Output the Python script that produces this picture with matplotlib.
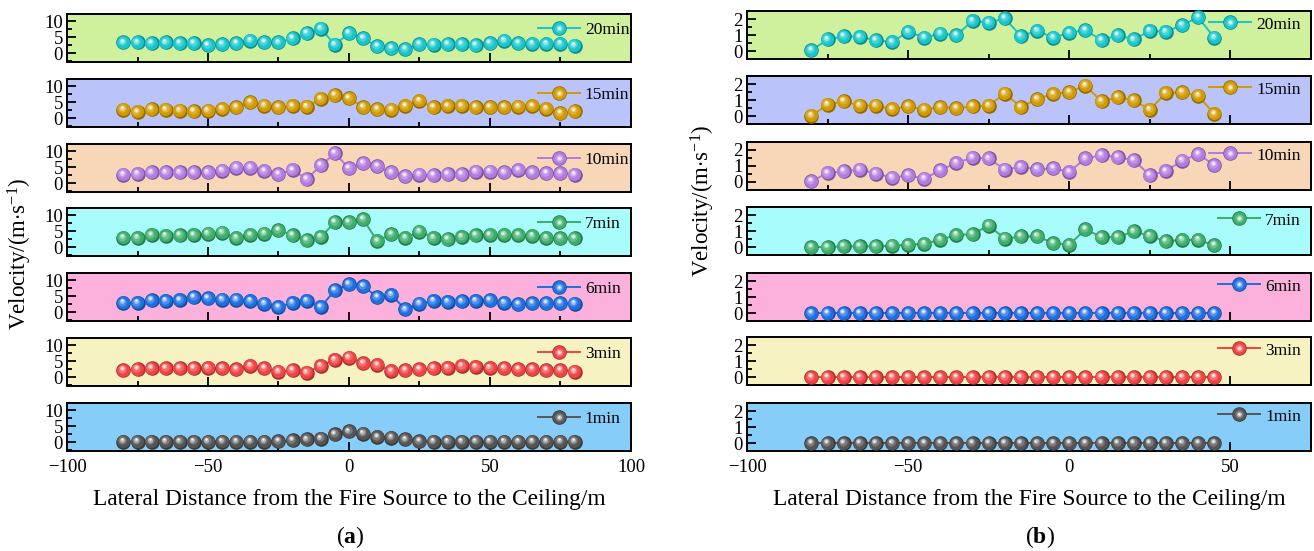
import numpy as np
import matplotlib
matplotlib.use('Agg')
import matplotlib.pyplot as plt
from matplotlib import transforms as mtransforms
from matplotlib.ticker import MultipleLocator
from matplotlib.legend_handler import HandlerTuple
from matplotlib.lines import Line2D
import matplotlib.colors as mcolors

plt.rcParams['font.family'] = ['Liberation Serif', 'DejaVu Serif']
plt.rcParams['mathtext.fontset'] = 'custom'
plt.rcParams['mathtext.rm'] = 'Liberation Serif'
plt.rcParams['mathtext.it'] = 'Liberation Serif:italic'
plt.rcParams['mathtext.bf'] = 'Liberation Serif:bold'
plt.rcParams['axes.unicode_minus'] = True

# ---------------- data ----------------
x_a = [-80, -75, -70, -65, -60, -55, -50, -45, -40, -35, -30, -25, -20, -15, -10, -5, 0,
       5, 10, 15, 20, 25, 30, 35, 40, 45, 50, 55, 60, 65, 70, 75, 80]
x_b = [-80, -75, -70, -65, -60, -55, -50, -45, -40, -35, -30, -25, -20, -15, -10, -5, 0,
       5, 10, 15, 20, 25, 30, 35, 40, 45]

labels = ['20min', '15min', '10min', '7min', '6min', '3min', '1min']

a_20min = [3.3, 3.3, 3.1, 3.3, 3.1, 3.0, 2.5, 2.7, 3.1, 3.9, 3.4, 3.3, 4.6, 6.2, 7.6, 2.6, 6.2,
           4.6, 2.1, 1.5, 1.2, 2.8, 2.6, 2.8, 2.8, 2.5, 3.1, 3.9, 3.1, 2.9, 2.9, 2.9, 2.3]
a_15min = [2.6, 1.9, 2.8, 2.6, 2.3, 2.1, 2.3, 2.9, 3.4, 4.9, 3.9, 3.4, 3.8, 3.6, 6.0, 7.2, 6.2,
           3.4, 2.8, 2.6, 3.8, 5.4, 3.4, 3.8, 3.8, 3.4, 3.4, 3.4, 3.6, 3.8, 2.9, 1.5, 2.1]
a_10min = [2.6, 2.9, 3.3, 3.3, 3.3, 3.3, 3.3, 3.9, 4.8, 4.8, 3.8, 2.8, 4.1, 1.2, 5.5, 9.3, 4.6,
           6.2, 5.2, 3.3, 2.1, 2.6, 2.4, 2.8, 2.8, 3.6, 3.6, 3.3, 4.1, 3.3, 3.1, 3.1, 2.6]
a_7min = [2.9, 2.9, 3.8, 3.5, 3.7, 3.8, 4.2, 4.5, 2.9, 3.8, 4.2, 5.3, 3.7, 2.1, 3.2, 7.7, 7.7,
          8.7, 1.9, 4.0, 2.9, 4.8, 2.9, 2.4, 3.2, 3.7, 3.8, 3.8, 3.8, 3.5, 2.9, 2.7, 2.7]
a_6min = [2.9, 2.9, 3.7, 3.5, 3.8, 4.7, 4.3, 3.9, 3.9, 3.5, 2.6, 1.6, 2.9, 3.5, 1.6, 6.8, 8.7,
          8.1, 4.7, 5.4, 0.8, 2.6, 3.5, 3.2, 3.3, 3.5, 3.7, 2.9, 2.4, 2.7, 2.7, 2.7, 2.6]
a_3min = [2.2, 2.4, 2.7, 2.7, 2.7, 2.7, 2.9, 2.7, 2.4, 3.5, 2.7, 1.7, 2.2, 1.4, 3.5, 5.4, 6.1,
          4.3, 3.8, 1.9, 2.2, 2.4, 2.7, 2.9, 3.5, 3.2, 2.9, 2.7, 2.4, 2.4, 2.2, 2.2, 1.7]
a_1min = [0.1, 0.1, 0.1, 0.1, 0.1, 0.1, 0.1, 0.1, 0.1, 0.1, 0.1, 0.2, 0.5, 0.8, 1.1, 2.4, 3.3,
          2.6, 1.6, 1.4, 0.8, 0.3, 0.1, 0.1, 0.1, 0.1, 0.1, 0.1, 0.1, 0.1, 0.1, 0.1, 0.1]

b_20min = [0.04, 0.72, 0.93, 0.88, 0.67, 0.57, 1.20, 0.84, 1.09, 0.99, 1.89, 1.77, 2.04,
           0.93, 1.26, 0.84, 1.14, 1.31, 0.67, 0.99, 0.72, 1.26, 1.20, 1.62, 2.10, 0.84]
b_15min = [0.02, 0.71, 0.92, 0.65, 0.65, 0.44, 0.60, 0.40, 0.56, 0.50, 0.60, 0.65, 1.40,
           0.56, 1.06, 1.38, 1.50, 1.90, 0.92, 1.17, 0.98, 0.40, 1.44, 1.48, 1.27, 0.13]
b_10min = [0.04, 0.57, 0.67, 0.78, 0.53, 0.27, 0.42, 0.21, 0.74, 1.20, 1.52, 1.47, 0.78,
           0.95, 0.80, 0.85, 0.63, 1.47, 1.68, 1.54, 1.37, 0.42, 0.69, 1.33, 1.75, 1.05]
b_7min = [0.00, 0.00, 0.04, 0.04, 0.04, 0.08, 0.14, 0.20, 0.45, 0.76, 0.80, 1.34, 0.52,
          0.66, 0.66, 0.25, 0.14, 1.11, 0.62, 0.62, 0.97, 0.70, 0.35, 0.45, 0.45, 0.10]
b_6min = [0.0, 0.0, 0.0, 0.0, 0.0, 0.0, 0.0, 0.0, 0.0, 0.0, 0.0, 0.0, 0.0,
          0.0, 0.0, 0.0, 0.0, 0.0, 0.0, 0.0, 0.0, 0.0, 0.0, 0.0, 0.0, 0.0]
b_3min = [0.0, 0.0, 0.0, 0.0, 0.0, 0.0, 0.0, 0.0, 0.0, 0.0, 0.0, 0.0, 0.0,
          0.0, 0.0, 0.0, 0.0, 0.0, 0.0, 0.0, 0.0, 0.0, 0.0, 0.0, 0.0, 0.0]
b_1min = [0.0, 0.0, 0.0, 0.0, 0.0, 0.0, 0.0, 0.0, 0.0, 0.0, 0.0, 0.0, 0.0,
          0.0, 0.0, 0.0, 0.0, 0.0, 0.0, 0.0, 0.0, 0.0, 0.0, 0.0, 0.0, 0.0]

series_a = [a_20min, a_15min, a_10min, a_7min, a_6min, a_3min, a_1min]
series_b = [b_20min, b_15min, b_10min, b_7min, b_6min, b_3min, b_1min]

ball_colors = ['#17C6CA', '#D09A00', '#B27BE0', '#3AAE6A', '#1E6FE0', '#EE4444', '#555555']
bg_colors = ['#CFF09C', '#BAC4FA', '#F8D6B8', '#A9FCFC', '#FBB1DC', '#F6F2C2', '#86CDFA']

# ---------------- layout ----------------
W, H = 1314, 551
fig = plt.figure(figsize=(W / 100, H / 100), dpi=100)


def add_ax(l, t, w, h):
    return fig.add_axes([l / W, 1 - (t + h) / H, w / W, h / H])


def mix(c, other, f):
    a = np.array(mcolors.to_rgb(c))
    b = np.array(mcolors.to_rgb(other))
    return tuple(a * (1 - f) + b * f)


def sphere_layers(color):
    return [
        (10.5, mix(color, 'black', 0.30), 0.0, 0.0),
        (9.4, color, -0.35, 0.35),
        (6.0, mix(color, 'white', 0.22), -0.8, 0.9),
        (3.6, mix(color, 'white', 0.55), -1.1, 1.4),
        (1.8, mix(color, 'white', 0.92), -1.2, 1.7),
    ]


def sphere_plot(ax, x, y, color, label):
    ax.plot(x, y, '-', color=color, lw=1.4, zorder=2)
    for ms, c, dx, dy in sphere_layers(color):
        tr = mtransforms.offset_copy(ax.transData, fig=fig, x=dx, y=dy, units='points')
        ax.plot(x, y, 'o', ms=ms, color=c, mec='none', transform=tr, zorder=3,
                clip_on=False)
    handles = [Line2D([], [], color=color, lw=1.4)]
    for ms, c, dx, dy in sphere_layers(color):
        handles.append(Line2D([], [], ls='', marker='o', ms=ms, color=c, mec='none'))
    return tuple(handles)


def style_axes(ax, xlim, ylim, ymaj, ymin, xmaj, xmin, bottom):
    ax.set_xlim(*xlim)
    ax.set_ylim(*ylim)
    ax.xaxis.set_major_locator(MultipleLocator(xmaj))
    ax.xaxis.set_minor_locator(MultipleLocator(xmin))
    ax.yaxis.set_major_locator(MultipleLocator(ymaj))
    ax.yaxis.set_minor_locator(MultipleLocator(ymin))
    ax.tick_params(which='both', direction='in', top=False, right=False,
                   width=1.3, labelsize=13.5, pad=3)
    ax.tick_params(axis='x', which='both', pad=6)
    ax.tick_params(which='major', length=6.5)
    ax.tick_params(which='minor', length=3.5)
    if not bottom:
        ax.tick_params(axis='x', labelbottom=False)
    for sp in ax.spines.values():
        sp.set_linewidth(1.4)
        sp.set_color('black')


tops_a = [14, 79, 144, 208, 273, 338, 403]
tops_b = [11, 76, 142, 207, 273, 337, 403]
ph = 48

for i in range(7):
    ax = add_ax(67, tops_a[i], 564, ph)
    ax.set_facecolor(bg_colors[i])
    h = sphere_plot(ax, x_a, series_a[i], ball_colors[i], labels[i])
    style_axes(ax, (-100, 100), (-2.8, 12.2), 5, 2.5, 50, 25, i == 6)
    ax.legend([h], [labels[i]], handler_map={tuple: HandlerTuple(ndivide=1)},
              loc='center left', bbox_to_anchor=(0.835, 0.66), frameon=False,
              fontsize=12.5, handlelength=2.4, handletextpad=0.3, borderpad=0,
              borderaxespad=0)
    if i == 6:
        ax.set_xlabel('Lateral Distance from the Fire Source to the Ceiling/m',
                      fontsize=16.8, labelpad=9)

    axb = add_ax(747, tops_b[i], 564, ph)
    axb.set_facecolor(bg_colors[i])
    hb = sphere_plot(axb, x_b, series_b[i], ball_colors[i], labels[i])
    style_axes(axb, (-100, 75), (-0.5, 2.5), 1, 0.5, 50, 25, i == 6)
    axb.legend([hb], [labels[i]], handler_map={tuple: HandlerTuple(ndivide=1)},
               loc='center right', bbox_to_anchor=(0.982, 0.72), frameon=False,
               fontsize=12.5, handlelength=2.4, handletextpad=0.3, borderpad=0,
               borderaxespad=0)
    if i == 6:
        axb.set_xlabel('Lateral Distance from the Fire Source to the Ceiling/m',
                       fontsize=16.8, labelpad=9)

fig.text(20 / W, 1 - 254 / H, r'Velocity/(m$\cdot$s$^{-1}$)', rotation=90,
         ha='center', va='center', fontsize=16.5)
fig.text(703 / W, 1 - 201 / H, r'Velocity/(m$\cdot$s$^{-1}$)', rotation=90,
         ha='center', va='center', fontsize=16.5)

fig.text(350 / W, 1 - 537 / H, r'($\mathbf{a}$)', ha='center', va='center', fontsize=17)
fig.text(1040 / W, 1 - 537 / H, r'($\mathbf{b}$)', ha='center', va='center', fontsize=17)

fig.savefig('out.png', dpi=100)
